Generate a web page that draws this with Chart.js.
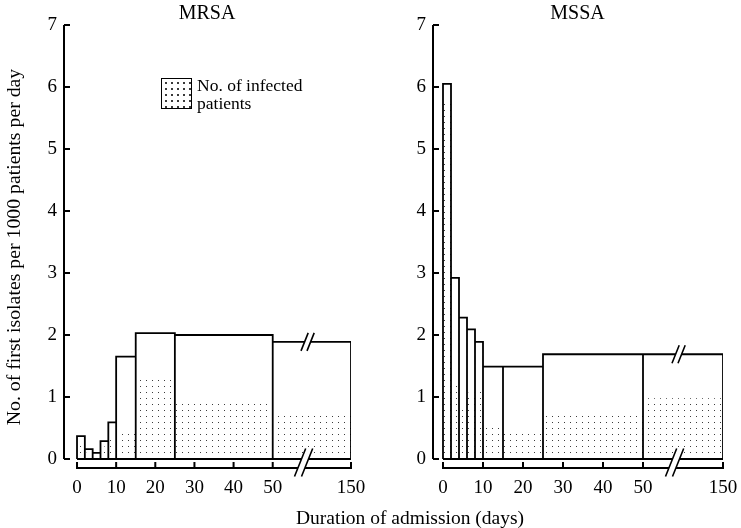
<!DOCTYPE html>
<html>
<head>
<meta charset="utf-8">
<script src="https://cdn.jsdelivr.net/npm/chart.js@4.4.1/dist/chart.umd.min.js"></script>
<style>
  body { margin: 0; background: #fff; overflow: hidden; }
  #wrap { position: relative; width: 741px; height: 528px; font-family: "Liberation Serif", "DejaVu Serif", serif; color: #000; }
  canvas { position: absolute; top: 0; }
  #mrsa { left: 0; }
  #mssa { left: 370px; }
  #xtitle { position: absolute; left: 410px; top: 507px; transform: translateX(-50%); font-size: 19.5px; line-height: 22px; white-space: nowrap; }
  #swatch { position: absolute; left: 161px; top: 78px; width: 31px; height: 31px; box-sizing: border-box; border: 1.6px solid #000;
            background: radial-gradient(circle, #333 0.7px, rgba(255,255,255,0) 0.9px) 1px 1px / 6px 6px; }
  #ltext { position: absolute; left: 197px; top: 76px; font-size: 17.5px; line-height: 18px; }
</style>
</head>
<body>
<div id="wrap">
  <canvas id="mrsa" width="370" height="528"></canvas>
  <canvas id="mssa" width="371" height="528"></canvas>
  <div id="swatch"></div>
  <div id="ltext">No. of infected<br>patients</div>
  <div id="xtitle">Duration of admission (days)</div>
</div>
<script>
// interval edges (days of admission); last interval 50-150 is drawn on a broken axis
const edgesDays = [0, 2, 4, 6, 8, 10, 15, 25, 50, 150];
const mrsaIsolates = [0.37, 0.16, 0.10, 0.29, 0.59, 1.65, 2.03, 2.00, 1.89];
const mrsaInfected = [0.25, 0.10, 0.06, 0.20, 0.35, 0.44, 1.35, 0.95, 0.76];
const mssaIsolates = [6.05, 2.92, 2.28, 2.09, 1.89, 1.49, 1.49, 1.69, 1.69];
const mssaInfected = [5.80, 1.20, 0.87, 1.07, 1.10, 0.58, 0.48, 0.70, 0.98];
const xTickDays = [0, 10, 20, 30, 40, 50, 150];
const yTicks = [0, 1, 2, 3, 4, 5, 6, 7];
const breakDay = 92;

// days after 50 are squeezed 5:1 on the axis
function toAxis(d) { return d <= 50 ? d : 50 + (d - 50) / 5; }
function fromAxis(v) { return v <= 50 ? v : 50 + (v - 50) * 5; }

// outline of a histogram as a polyline: each bar up, across, down
function histPoints(values, closeBase) {
    const pts = [];
    values.forEach((v, i) => {
        const a = toAxis(edgesDays[i]), b = toAxis(edgesDays[i + 1]);
        pts.push({x: a, y: 0}, {x: a, y: v}, {x: b, y: v}, {x: b, y: 0});
    });
    if (closeBase) pts.push({x: toAxis(edgesDays[0]), y: 0});
    return pts;
}

function dots(ctx) {
    const c = document.createElement('canvas');
    c.width = 6; c.height = 6;
    const g = c.getContext('2d');
    g.fillStyle = '#3c3c3c';
    g.fillRect(2, 2, 1, 1);
    return ctx.createPattern(c, 'repeat');
}

function breakMark(ctx, cx, cy, halfH, gap) {
    const s = 0.4;
    ctx.save();
    ctx.fillStyle = '#fff';
    ctx.beginPath();
    ctx.moveTo(cx - s * halfH - gap / 2, cy + halfH);
    ctx.lineTo(cx + s * halfH - gap / 2, cy - halfH);
    ctx.lineTo(cx + s * halfH + gap / 2, cy - halfH);
    ctx.lineTo(cx - s * halfH + gap / 2, cy + halfH);
    ctx.closePath();
    ctx.fill();
    ctx.strokeStyle = '#000';
    ctx.lineWidth = 1.6;
    ctx.beginPath();
    [-gap / 2, gap / 2].forEach(o => {
        ctx.moveTo(cx - s * halfH + o, cy + halfH);
        ctx.lineTo(cx + s * halfH + o, cy - halfH);
    });
    ctx.stroke();
    ctx.restore();
}

const axesPlugin = {
    id: 'axes',
    afterDatasetsDraw(chart, args, opts) {
        const {ctx, chartArea, scales: {x, y}} = chart;
        ctx.save();
        ctx.strokeStyle = '#000';
        ctx.lineWidth = 2;
        const x0 = chartArea.left + 1;
        const yZero = y.getPixelForValue(0);
        ctx.beginPath();
        ctx.moveTo(x0, y.getPixelForValue(7));
        ctx.lineTo(x0, yZero);
        yTicks.forEach(v => {
            const py = y.getPixelForValue(v);
            ctx.moveTo(x0, py);
            ctx.lineTo(x0 + 6, py);
        });
        ctx.stroke();

        const base = chartArea.bottom - 1;
        const xs = xTickDays.map(d => x.getPixelForValue(toAxis(d)));
        ctx.beginPath();
        ctx.moveTo(xs[0], base);
        ctx.lineTo(xs[xs.length - 1], base);
        xs.forEach(px => {
            ctx.moveTo(px, base + 1);
            ctx.lineTo(px, base - 6);
        });
        ctx.stroke();
        ctx.restore();

        const bx = x.getPixelForValue(toAxis(breakDay));
        breakMark(ctx, bx + 2, y.getPixelForValue(opts.lastValue), 9, 6);
        breakMark(ctx, bx - 2, (yZero + base) / 2 - 1, 14, 7);
    }
};

function noOverhang(s) {
    s.paddingLeft = 0; s.paddingRight = 0;
    s.paddingTop = 0; s.paddingBottom = 0;
}

function panel(id, title, isolates, infected, xMin, yWidth, padRight, yTitle) {
    const ctx = document.getElementById(id).getContext('2d');
    return new Chart(ctx, {
        type: 'scatter',
        data: {
            datasets: [{
                data: histPoints(isolates, true),
                showLine: true,
                borderColor: '#000',
                borderWidth: 1.8,
                pointRadius: 0,
                fill: false
            }, {
                data: histPoints(infected, false),
                showLine: true,
                borderWidth: 0,
                borderColor: 'rgba(0,0,0,0)',
                backgroundColor: dots(ctx),
                pointRadius: 0,
                fill: 'origin'
            }]
        },
        options: {
            responsive: false,
            animation: false,
            devicePixelRatio: 1,
            layout: {padding: {left: 0, right: padRight, top: 0, bottom: 0}},
            plugins: {
                legend: {display: false},
                tooltip: {enabled: false},
                title: {
                    display: true,
                    text: title,
                    fullSize: false,
                    color: '#000',
                    font: {family: 'Liberation Serif', size: 20, weight: 'normal', lineHeight: 1},
                    padding: {top: 4, bottom: 1}
                },
                axes: {lastValue: isolates[isolates.length - 1]}
            },
            scales: {
                x: {
                    type: 'linear',
                    min: xMin,
                    max: toAxis(150),
                    bounds: 'data',
                    grid: {display: false, drawTicks: false},
                    border: {display: false},
                    afterBuildTicks: s => { s.ticks = xTickDays.map(d => ({value: toAxis(d)})); },
                    afterFit: s => { s.height = 59; noOverhang(s); },
                    ticks: {
                        color: '#000',
                        padding: 8,
                        maxRotation: 0,
                        autoSkip: false,
                        font: {family: 'Liberation Serif', size: 19},
                        callback: v => String(Math.round(fromAxis(v)))
                    }
                },
                y: {
                    type: 'linear',
                    min: -0.161,
                    max: 7,
                    bounds: 'data',
                    grid: {display: false, drawTicks: false},
                    border: {display: false},
                    afterBuildTicks: s => { s.ticks = yTicks.map(v => ({value: v})); },
                    afterFit: s => { s.width = yWidth; noOverhang(s); },
                    ticks: {
                        color: '#000',
                        padding: 6,
                        font: {family: 'Liberation Serif', size: 19}
                    },
                    title: {
                        display: !!yTitle,
                        text: yTitle || '',
                        color: '#000',
                        font: {family: 'Liberation Serif', size: 19.8},
                        padding: {top: 3, bottom: 0}
                    }
                }
            }
        },
        plugins: [axesPlugin]
    });
}

panel('mrsa', 'MRSA', mrsaIsolates, mrsaInfected, -3.58, 63, 19, 'No. of first isolates per 1000 patients per day');
panel('mssa', 'MSSA', mssaIsolates, mssaInfected, -2.75, 62, 18, null);
</script>
</body>
</html>
